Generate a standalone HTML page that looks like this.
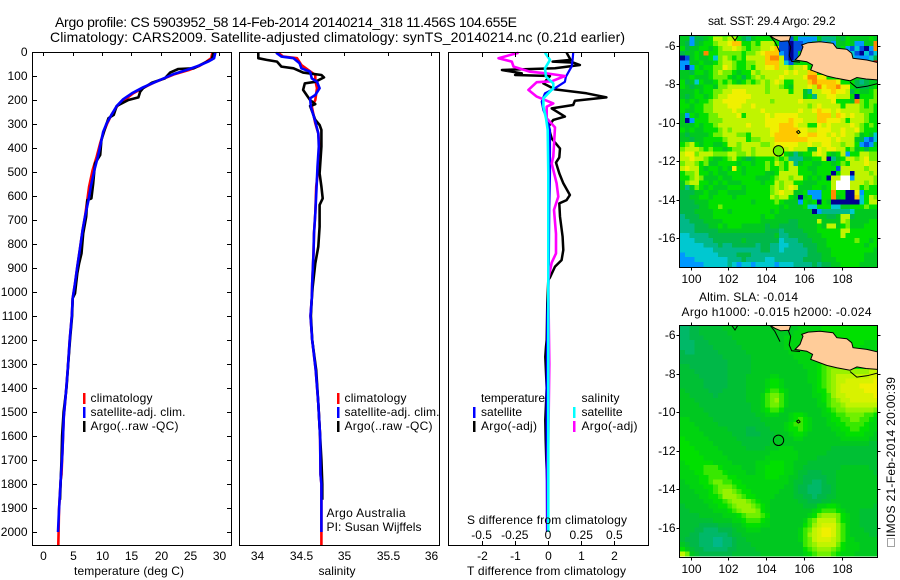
<!DOCTYPE html>
<html lang="en">
<head>
<meta charset="utf-8">
<title>Argo profile 5903952_58</title>
<style>
html,body{margin:0;padding:0;background:#fff;}
svg{display:block;}
text{font-family:"Liberation Sans",sans-serif;font-size:12px;fill:#000;}
.t14{font-size:14px;}
</style>
</head>
<body>
<svg id="fig" xmlns="http://www.w3.org/2000/svg" width="900" height="580" viewBox="0 0 900 580">
<defs>
<clipPath id="clipMap1"><rect x="679.5" y="35.5" width="198" height="232"/></clipPath>
<clipPath id="clipMap2"><rect x="679.5" y="325.5" width="198" height="232"/></clipPath>
</defs>
<rect x="0" y="0" width="900" height="580" fill="#fff"/>
<g id="marks"></g>

<text class="t14" x="55" y="27" textLength="462">Argo profile: CS 5903952_58 14-Feb-2014 20140214_318 11.456S 104.655E</text>
<text class="t14" x="50" y="42" textLength="575">Climatology: CARS2009. Satellite-adjusted climatology: synTS_20140214.nc (0.21d earlier)</text>

<text x="74" y="575" textLength="110">temperature (deg C)</text>
<text x="318.5" y="575" textLength="37">salinity</text>
<text x="467" y="575" textLength="159">T difference from climatology</text>
<text x="467" y="524" textLength="160">S difference from climatology</text>

<g>
<rect x="83" y="393" width="2.5" height="11" fill="#f00"/>
<rect x="83" y="407" width="2.5" height="11" fill="#00f"/>
<rect x="83" y="421" width="2.5" height="11" fill="#000"/>
<text x="90.5" y="402" textLength="62">climatology</text>
<text x="90.5" y="416" textLength="95">satellite-adj. clim.</text>
<text x="90.5" y="430" textLength="88">Argo(..raw -QC)</text>
</g>
<g>
<rect x="337" y="393" width="2.5" height="11" fill="#f00"/>
<rect x="337" y="407" width="2.5" height="11" fill="#00f"/>
<rect x="337" y="421" width="2.5" height="11" fill="#000"/>
<text x="344.5" y="402" textLength="62">climatology</text>
<text x="344.5" y="416" textLength="95">satellite-adj. clim.</text>
<text x="344.5" y="430" textLength="88">Argo(..raw -QC)</text>
</g>
<text x="326.5" y="517" textLength="79">Argo Australia</text>
<text x="326.5" y="531" textLength="95">PI: Susan Wijffels</text>

<g>
<text x="481" y="402" textLength="64">temperature</text>
<text x="581.5" y="402" textLength="38">salinity</text>
<rect x="473" y="407" width="2.5" height="11" fill="#00f"/>
<rect x="473" y="421" width="2.5" height="11" fill="#000"/>
<rect x="573" y="407" width="2.5" height="11" fill="#0ff"/>
<rect x="573" y="421" width="2.5" height="11" fill="#f0f"/>
<text x="481" y="416" textLength="41">satellite</text>
<text x="481" y="430" textLength="56">Argo(-adj)</text>
<text x="581.5" y="416" textLength="41">satellite</text>
<text x="581.5" y="430" textLength="56">Argo(-adj)</text>
</g>

<text x="708" y="25" textLength="127.5">sat. SST: 29.4 Argo: 29.2</text>
<text x="699" y="301" textLength="99">Altim. SLA: -0.014</text>
<text x="681.5" y="316" textLength="190">Argo h1000: -0.015 h2000: -0.024</text>

<rect x="887.5" y="538.5" width="7" height="8" fill="none" stroke="#444" stroke-width="1" stroke-dasharray="1 1"/>
<text transform="translate(895,537) rotate(-90)" x="0" y="0" textLength="160">IMOS 21-Feb-2014 20:00:39</text>
</svg>

<script>
// ---------- profile data ----------
const tempClimDepth=[3,26,40,58,75,92,110,128,147,172,197,225,262,297,332,380,436,492,561,617,686,742,818,894,964,1026,1100,1200,1325,1436,1519,1671,1760,1783,1908,2000,2054];
const tempClimValue=[28.8,28.6,27.8,26.6,24.8,22.4,20.6,18.8,17.2,15.3,14.0,12.6,11.6,10.9,10.3,9.7,9.1,8.4,7.8,7.5,7.1,6.7,6.25,5.8,5.4,5.0,4.85,4.5,4.15,3.8,3.5,3.25,3.1,2.96,2.67,2.6,2.55];
const tempArgoDepth=[3,31,47,68,71,86,110,128,151,165,189,200,225,262,276,304,367,429,464,547,610,617,686,756,839,881,922,1006,1026,1100,1200,1300,1400,1500,1600,1700,1866];
const tempArgoValue=[29.0,28.7,27.3,25.6,23.0,21.6,20.7,18.5,17.0,16.5,16.2,14.5,12.5,12.0,11.1,10.7,9.9,9.7,8.8,8.5,8.2,7.5,7.3,6.8,6.5,6.1,5.8,5.4,5.0,4.9,4.55,4.25,3.95,3.45,3.2,3.1,2.85];
const tempSatDepth=[3,26,40,58,75,92,110,128,147,172,197,225,262,297,332,380,436,492,561,617,686,742,818,894,964,1026,1100,1200,1325,1436,1519,1671,1783,1908,2000];
const tempSatValue=[29.3,29.1,28.1,26.4,24.4,22.2,20.5,18.8,17.0,15.1,13.6,12.5,11.6,10.8,10.2,9.8,9.3,8.7,8.1,7.7,7.1,6.7,6.25,5.8,5.4,5.0,4.85,4.5,4.15,3.8,3.5,3.25,2.96,2.67,2.5];

const salClimDepth=[3,19,26,54,75,96,117,151,200,228,297,339,429,485,561,672,756,839,964,1026,1100,1200,1325,1464,1600,1760,1800,2000,2054];
const salClimValue=[34.245,34.30,34.46,34.51,34.59,34.67,34.67,34.69,34.67,34.63,34.67,34.705,34.725,34.705,34.68,34.67,34.655,34.65,34.635,34.63,34.615,34.635,34.675,34.705,34.725,34.73,34.74,34.74,34.74];
const salArgoDepth=[3,26,33,40,61,68,86,96,106,124,131,158,179,200,217,225,283,304,325,394,450,506,561,610,637,728,811,881,978,1026,1100,1200,1325,1464,1600,1700,1800,1866];
const salArgoValue=[34.015,34.015,34.11,34.23,34.28,34.42,34.53,34.74,34.77,34.67,34.55,34.53,34.57,34.61,34.67,34.61,34.67,34.72,34.74,34.74,34.73,34.72,34.74,34.755,34.72,34.72,34.705,34.67,34.64,34.63,34.62,34.635,34.68,34.705,34.725,34.74,34.75,34.75];
const salSatDepth=[3,19,26,47,68,82,110,124,151,179,193,228,290,339,394,478,561,672,756,839,964,1026,1100,1200,1325,1464,1600,1760,1800,2000];
const salSatValue=[34.22,34.28,34.42,34.49,34.51,34.61,34.63,34.69,34.72,34.67,34.61,34.62,34.67,34.705,34.71,34.695,34.685,34.67,34.655,34.65,34.635,34.63,34.615,34.635,34.675,34.705,34.725,34.73,34.74,34.74];

const diffTArgoDepth=[3,33,40,44,54,68,75,89,96,100,131,156,172,189,203,221,235,269,283,311,360,402,439,461,506,547,596,617,631,686,769,825,867,894,939,950,1047,1200,1228,1270,1400,1533,1617,1700,1853];
const diffTArgoValue=[0.56,0.68,0.14,0.76,0.96,0.21,-1.39,-0.79,-0.99,0.06,-0.14,0.21,1.16,1.76,0.81,0.76,0.11,0.51,0.16,0.01,0.11,0.36,0.34,0.24,0.34,0.46,0.66,0.56,0.34,0.36,0.44,0.46,0.41,0.21,0.06,0.01,-0.02,-0.04,-0.06,-0.08,-0.04,-0.08,-0.07,-0.05,0];
const diffTSatDepth=[3,33,61,103,124,151,172,207,242,276,325,506,644,950,1100,1400,1700,2000];
const diffTSatValue=[0.76,0.74,0.71,0.54,0.51,0.21,-0.09,-0.19,-0.14,-0.04,0.06,0.06,0.04,0.02,-0.02,-0.04,-0.04,-0.03];
const diffSArgoDepth=[3,26,40,61,82,89,100,122,126,158,186,214,228,276,314,436,464,547,603,658,758,839,878,945,1100,1300,1500,1700,2000];
const diffSArgoValue=[-0.2225,-0.3725,-0.2725,-0.26,-0.135,-0.01,0.1275,0.0275,-0.085,-0.1475,-0.085,0.04,-0.01,-0.01,0.0525,0.04,0.0275,0.065,0.0775,0.045,0.06,0.06,0.0275,0.0025,0.005,0.01,0.005,0,0];
const diffSSatDepth=[3,33,68,103,131,151,193,228,276,325,506,950,1500,2000];
const diffSSatValue=[-0.0225,0.015,-0.0225,-0.015,0.04,0.04,-0.035,-0.035,-0.015,-0.0025,0.0025,0.0025,0.0025,0.0025];

// ---------- tick labels ----------
const depthTicks=[0,100,200,300,400,500,600,700,800,900,1000,1100,1200,1300,1400,1500,1600,1700,1800,1900,2000];
const tempTicks=[0,5,10,15,20,25,30];
const salTicks=[34,34.5,35,35.5,36];
const diffTTicks=[-2,-1,0,1,2];
const diffSTicks=[-0.5,-0.25,0,0.25,0.5];
const lonTicks=[100,102,104,106,108];
const latTicks=[-6,-8,-10,-12,-14,-16];

// ---------- map data ----------
const argoLon=104.655;
const argoLat=-11.456;
const javaLon=[105.88,106.22,106.85,107.54,107.74,108.27,108.53,108.6,109.33,109.95,109.95,109.29,108.81,108.44,107.74,107.21,106.48,106.36,106.46,106.15,105.53,105.79,105.95];
const javaLat=[-5.95,-5.83,-5.78,-5.86,-6.12,-6.17,-6.38,-6.64,-6.73,-6.87,-7.77,-7.72,-7.64,-7.81,-7.68,-7.56,-7.29,-7.25,-6.99,-6.82,-6.73,-6.47,-6.04];
const sumatraLon=[104.2,105.3,105.22,104.77,104.47];
const sumatraLat=[-5.47,-5.47,-5.73,-5.76,-5.63];
const coastALon=[104.2,104.47,104.73];
const coastALat=[-5.47,-5.8,-6.32];
const coastBLon=[105.17,105.3,105.22,105.35,105.79];
const coastBLat=[-5.75,-6.06,-6.5,-6.8,-6.84];
const coastCLon=[108.44,108.8,109.33,109.9];
const coastCLat=[-7.88,-8.17,-8.10,-7.96];
const coastDLon=[102.17,102.35,102.5];
const coastDLat=[-5.47,-5.72,-5.47];
const islandLon=[105.6,105.72,105.8,105.7,105.6];
const islandLat=[-10.47,-10.4,-10.5,-10.56,-10.47];

// SST colour levels per 0.25 degree cell (-1 = no data)
const sstRows=[
[6,6,2,5,5,6,7,9,9,8,9,9,7,5,4,6,7,7,7,7,6,1,1,1,6,2,2,2,2,6,4,4,4,6,5,7,6,6,6,6,7,6],
[6,5,2,5,6,7,7,8,9,9,10,11,11,7,7,8,7,9,9,9,7,1,1,0,1,1,2,2,4,4,2,4,2,6,6,7,6,2,2,6,6,12],
[7,5,6,6,7,7,6,7,8,9,9,10,9,8,7,8,8,9,9,10,11,1,1,0,1,1,2,6,6,6,6,5,6,5,7,2,1,3,1,0,2,12],
[5,6,6,7,6,12,7,7,8,8,8,8,8,7,8,8,9,10,11,11,11,2,1,0,1,6,6,6,6,6,6,6,6,6,6,1,3,1,0,3,1,3],
[0,1,6,7,6,6,7,3,8,9,8,7,8,7,9,9,9,9,11,12,12,9,1,0,1,7,7,7,7,7,7,7,7,7,6,6,3,2,2,2,3,5],
[2,2,6,6,7,6,6,7,8,9,9,8,7,7,8,8,9,9,11,11,11,9,3,1,6,7,7,7,7,7,7,7,7,7,7,7,7,3,5,3,4,13],
[2,0,2,7,6,7,7,8,8,10,9,8,7,7,8,7,9,9,10,10,11,9,9,8,9,9,10,7,7,7,7,7,7,7,7,7,7,7,7,7,7,7],
[6,6,5,7,7,6,7,8,9,8,8,7,6,7,7,9,8,9,9,9,9,9,10,9,10,9,9,11,11,7,7,7,7,7,7,7,7,7,7,7,7,7],
[6,6,7,6,6,6,7,8,8,8,7,6,7,5,7,8,9,8,9,9,9,10,9,9,9,9,10,12,12,10,10,7,7,7,7,7,7,7,7,7,7,7],
[7,5,6,3,7,6,6,7,8,7,8,7,6,7,8,7,8,9,8,9,10,9,7,7,9,9,9,11,12,11,11,11,11,10,7,7,7,5,4,5,6,6],
[7,6,5,6,6,7,7,6,8,8,9,9,9,9,9,9,9,9,8,9,9,8,7,6,9,9,9,10,9,12,10,11,11,12,10,10,7,5,5,5,6,7],
[6,6,6,7,6,7,7,8,8,9,9,10,10,10,9,9,9,9,8,9,9,9,9,7,9,9,6,4,9,9,10,10,11,10,10,9,5,7,6,6,7,8],
[6,5,6,7,7,6,7,8,9,9,10,10,10,10,10,9,9,9,9,9,9,9,9,9,9,9,6,7,4,9,9,10,10,9,9,9,7,0,7,7,7,8],
[7,6,7,6,7,7,8,9,9,10,10,10,10,10,9,9,9,9,9,8,9,9,9,9,9,10,9,9,9,9,9,9,10,7,7,7,6,12,8,7,8,8],
[7,7,6,7,7,8,8,9,9,9,10,10,10,9,9,10,9,9,9,9,9,9,9,9,9,9,9,8,9,10,9,9,9,9,7,9,9,9,8,7,8,7],
[7,6,6,7,7,8,8,9,9,9,9,10,9,9,9,9,9,10,9,9,9,9,9,9,9,10,9,9,10,11,10,10,9,10,9,9,9,9,8,8,8,7],
[6,2,7,6,7,7,8,8,9,9,9,9,10,7,9,9,9,9,10,9,10,10,10,10,10,9,9,9,9,11,11,11,9,11,10,9,10,9,9,8,7,7],
[6,0,2,7,7,7,8,8,8,9,9,9,9,9,9,9,9,9,10,10,10,10,10,11,10,10,9,9,9,11,11,10,10,10,9,7,9,9,9,8,7,7],
[6,6,6,7,6,7,7,8,9,9,9,9,9,9,10,9,9,9,10,10,10,11,11,11,10,9,9,7,7,10,9,10,9,9,9,9,10,9,8,7,8,7],
[7,6,7,6,6,7,7,7,8,9,8,9,9,9,9,9,9,9,9,10,10,11,11,11,11,10,10,9,9,10,10,10,9,9,10,9,9,10,8,7,7,7],
[6,5,6,6,6,6,7,8,8,9,9,9,8,8,7,9,9,9,9,10,11,11,11,11,11,10,10,11,11,10,10,9,10,9,10,9,9,8,6,7,6,3],
[6,6,5,6,6,7,7,7,7,8,9,9,9,9,7,8,8,9,9,9,11,11,11,11,11,11,11,10,10,10,10,10,9,10,9,9,9,6,5,2,1,3],
[7,8,9,7,6,7,7,6,6,7,9,9,8,9,9,9,9,8,8,9,10,10,10,10,10,9,9,10,9,9,10,10,9,9,8,9,9,7,2,1,2,6],
[8,9,9,9,8,7,8,7,7,6,7,8,8,9,9,8,9,9,9,9,10,10,9,10,9,9,9,6,6,10,9,10,10,9,9,7,8,6,7,5,7,7],
[9,10,10,8,9,9,9,8,8,8,9,9,8,8,9,8,9,9,9,9,10,9,7,6,4,6,7,7,9,10,9,7,6,7,9,2,7,7,9,9,8,8],
[9,9,10,9,9,8,7,6,6,7,8,9,7,6,5,6,7,7,7,7,8,7,8,4,4,4,6,6,7,7,9,0,4,6,7,9,9,8,9,10,8,8],
[8,9,9,8,7,8,6,6,7,7,7,7,6,7,7,6,7,7,8,7,9,8,7,9,4,6,7,7,6,6,7,7,6,7,8,7,9,9,9,10,9,9],
[9,10,9,9,7,6,7,7,6,7,6,10,7,6,7,7,7,7,8,7,7,8,7,9,9,7,7,6,6,7,7,7,7,1,9,9,9,9,9,8,9,9],
[7,8,8,9,7,7,6,7,6,6,7,7,7,6,7,7,7,7,6,6,7,9,9,9,9,7,7,7,6,7,7,7,0,7,9,9,0,9,9,9,8,9],
[7,7,8,9,8,6,6,6,7,6,6,7,7,7,7,7,6,6,6,7,8,9,9,8,9,9,7,6,7,6,7,0,9,9,-1,-1,2,9,9,9,9,8],
[6,8,9,9,7,7,6,7,6,7,6,6,6,7,7,7,7,6,7,7,9,8,9,9,7,7,6,6,6,7,7,7,9,-1,-1,-1,9,9,9,8,9,8],
[6,4,6,8,7,6,7,6,6,6,7,7,7,6,7,7,7,7,7,8,9,8,9,10,9,6,6,6,7,7,6,7,9,-1,-1,-1,9,9,7,8,7,7],
[5,5,5,6,6,7,6,6,7,7,6,6,6,6,7,7,7,7,7,8,9,10,9,9,6,6,7,2,2,2,7,7,12,7,7,0,0,10,2,7,7,7],
[5,5,6,6,7,7,6,7,7,7,7,6,7,7,7,7,7,7,7,9,8,9,9,7,6,0,6,7,2,2,7,7,12,6,7,0,0,11,3,7,9,8],
[5,5,5,6,6,6,7,7,7,7,7,7,7,7,7,6,7,7,7,7,8,7,6,6,6,2,7,6,7,0,7,6,0,0,0,0,0,0,3,7,9,9],
[5,5,5,5,6,6,7,7,8,7,7,7,7,7,7,7,7,7,7,7,7,6,7,6,6,6,7,3,3,7,7,7,3,3,6,6,7,7,7,8,7,7],
[5,5,5,6,6,6,6,7,7,7,6,7,7,7,7,7,7,7,7,6,7,6,6,6,6,6,6,6,0,2,4,4,4,4,4,4,3,6,6,6,6,6],
[4,5,5,5,6,6,6,7,7,7,7,7,7,7,7,7,7,6,7,7,6,6,6,6,6,6,6,6,6,6,6,5,5,6,9,9,5,6,6,6,6,6],
[4,4,5,5,5,6,6,6,6,7,7,7,7,7,7,7,7,6,6,6,6,6,6,5,5,6,6,6,6,9,6,6,6,6,9,8,6,6,6,6,7,7],
[4,4,4,5,5,5,6,6,7,6,7,7,7,6,6,6,6,6,5,6,6,5,5,5,5,6,6,6,6,7,6,9,9,6,7,8,6,6,6,7,7,7],
[4,4,4,5,5,5,5,5,6,6,6,6,6,6,6,6,6,6,5,5,5,4,5,5,5,5,6,6,6,7,7,7,7,7,9,9,7,7,7,7,7,7],
[3,3,4,4,4,4,5,5,5,5,5,5,5,5,5,5,5,5,5,5,6,4,4,5,5,5,5,6,6,6,7,7,7,7,9,7,7,7,7,7,7,7],
[3,3,3,4,4,4,4,5,5,5,5,5,5,6,5,5,5,5,5,5,5,3,4,4,4,5,5,5,6,6,6,7,7,7,7,7,7,8,7,7,6,7],
[3,3,3,3,3,4,4,4,5,4,4,5,5,5,5,5,4,5,5,4,4,3,3,4,4,4,5,5,5,6,6,7,7,7,7,7,7,7,7,6,7,7],
[3,3,3,3,3,3,3,4,4,4,4,4,4,4,4,4,4,5,5,4,4,3,4,4,4,4,4,5,5,6,6,6,7,7,7,7,7,7,7,7,7,6],
[2,3,3,3,3,3,3,3,4,4,4,4,5,5,5,4,4,4,4,4,4,4,4,4,4,4,4,5,5,5,6,6,7,7,7,7,7,7,7,6,6,6],
[2,2,2,3,3,3,3,3,3,3,4,4,4,5,4,4,4,4,3,3,4,4,4,4,4,4,5,5,5,5,6,6,6,7,7,7,7,7,7,6,6,6],
[2,2,2,2,2,3,3,3,3,3,4,3,2,3,3,2,3,3,3,3,2,3,3,3,4,4,4,4,5,4,5,5,6,6,7,7,7,7,6,6,6,6]
];

// Sea-level anomaly colour values per 0.25 degree cell (two units per colour level)
const slaRows=[
[9,9,10,10,11,11,11,11,11,12,12,12,12,12,12,12,12,12,12,12,12,12,12,12,12,13,13,13,13,13,14,14,14,14,14,14,14,14,14,14,14,14],
[9,9,10,10,11,11,11,11,11,11,12,12,12,12,12,12,12,12,12,12,12,12,12,12,13,13,13,13,13,13,14,14,14,14,14,14,14,14,14,14,14,14],
[9,9,10,10,10,11,11,11,11,11,11,12,12,12,12,12,12,12,12,12,12,12,13,13,13,13,13,13,13,14,14,14,14,14,14,14,14,14,14,14,14,14],
[9,9,9,10,10,10,11,11,11,11,11,11,12,12,12,12,12,12,12,12,12,12,13,13,13,13,13,13,14,14,14,14,14,14,14,14,14,14,14,13,13,13],
[9,9,9,10,10,10,10,11,11,11,11,11,11,12,12,12,12,12,12,12,12,12,13,13,13,13,13,14,14,14,14,14,14,14,14,14,14,14,13,13,13,13],
[10,9,9,10,10,10,10,10,11,11,11,11,11,11,12,12,12,12,12,12,12,12,12,13,13,13,13,14,14,14,14,14,14,14,14,14,14,13,13,13,13,13],
[10,10,10,10,10,10,10,10,10,11,11,11,11,11,11,12,12,12,12,12,12,12,12,12,13,13,13,13,14,14,14,14,14,14,14,14,14,14,14,14,14,14],
[10,10,10,10,10,10,10,10,10,10,11,11,11,11,11,12,12,12,12,12,12,12,12,12,12,13,13,13,13,13,14,14,14,14,14,14,14,14,14,14,14,14],
[11,11,10,10,10,10,10,10,10,10,11,11,11,11,11,12,12,12,12,12,12,12,12,12,12,12,13,13,13,14,15,16,16,16,15,14,14,14,14,14,14,14],
[11,11,11,10,10,10,10,10,10,10,11,11,11,11,11,12,12,12,12,12,12,12,12,12,12,12,12,13,13,14,15,16,17,17,17,17,17,17,17,17,18,18],
[11,11,11,11,10,10,10,10,10,10,11,11,11,11,12,12,12,12,12,13,13,12,12,12,12,12,12,13,13,14,15,16,17,18,18,18,18,18,18,18,19,19],
[11,11,11,11,11,10,10,10,10,10,11,11,11,11,12,12,12,12,13,14,14,13,12,12,12,12,12,13,13,14,15,16,17,18,18,19,19,19,19,19,19,20],
[11,11,11,11,11,10,10,10,10,10,11,11,11,11,12,12,12,12,13,14,14,13,12,12,12,12,12,12,13,14,15,16,17,18,19,19,19,19,20,20,20,20],
[12,11,11,11,11,11,10,10,10,11,11,11,11,11,12,12,12,12,14,15,15,14,13,12,12,12,12,12,13,14,14,16,17,18,19,19,19,19,19,20,20,20],
[12,12,11,11,11,11,11,10,11,11,11,11,11,11,12,12,12,13,15,16,16,15,13,12,12,12,12,12,13,13,14,15,17,18,18,19,19,19,19,19,19,20],
[12,12,12,11,11,11,11,11,11,11,11,11,11,11,12,12,12,13,15,16,17,15,13,12,12,12,12,12,12,13,14,15,16,17,18,18,19,19,19,19,19,19],
[12,12,12,12,11,11,11,11,11,11,11,11,11,11,11,12,12,13,15,16,16,15,13,12,12,12,12,12,12,13,13,15,16,16,17,18,18,18,18,18,18,18],
[12,12,12,12,12,11,11,11,11,11,11,11,11,11,11,12,12,13,14,15,15,14,12,12,12,12,12,12,12,12,13,14,15,16,16,17,17,17,17,17,17,16],
[12,12,12,12,12,12,11,11,11,11,11,11,11,11,11,11,12,12,13,13,13,12,12,13,14,14,13,12,12,12,13,13,14,15,15,16,16,16,16,15,15,14],
[13,13,12,12,12,12,12,11,11,11,11,11,11,11,11,11,11,12,12,12,12,12,12,13,14,15,14,13,12,12,12,13,14,14,15,15,16,16,15,15,14,13],
[13,13,13,12,12,12,12,12,11,11,11,11,11,11,11,11,11,11,12,12,12,12,13,14,15,15,14,13,12,12,12,13,13,14,14,15,15,15,15,14,13,13],
[13,13,13,13,12,12,12,12,12,12,11,11,11,11,10,10,11,11,11,12,12,12,13,14,14,15,14,13,12,12,12,12,13,13,14,14,15,15,14,14,13,13],
[13,13,13,13,13,12,12,12,12,12,12,11,11,11,10,10,10,11,11,11,12,12,12,13,14,14,13,12,12,12,12,12,12,13,13,14,14,14,14,13,13,12],
[14,13,13,13,13,13,12,12,12,12,12,12,11,11,11,11,11,11,11,11,12,12,12,12,13,13,12,12,12,12,12,12,12,12,13,13,13,13,13,13,12,12],
[14,14,13,13,13,13,13,12,12,12,12,12,12,11,11,11,11,11,11,12,12,12,12,12,12,12,12,12,12,12,12,12,12,12,12,12,12,12,12,12,11,11],
[14,14,14,13,13,13,13,13,12,12,12,12,12,12,11,11,11,11,12,12,12,13,13,13,12,12,12,12,12,12,12,12,11,11,11,11,11,11,11,11,11,11],
[14,14,14,14,13,13,13,13,13,12,12,12,12,12,12,12,12,12,12,13,13,13,13,13,13,12,12,12,12,12,12,11,11,11,11,11,11,11,11,11,11,11],
[14,14,14,14,14,13,13,13,13,13,12,12,12,12,12,12,12,12,13,13,13,13,13,13,13,12,12,12,12,11,11,11,11,11,11,11,11,11,11,11,11,11],
[13,14,14,14,14,14,14,13,13,13,13,12,12,12,12,12,13,13,13,14,14,14,13,13,12,12,12,11,11,11,11,11,11,11,11,11,11,11,11,11,11,11],
[13,13,14,14,14,15,15,15,14,13,13,13,13,12,12,12,13,13,14,14,14,14,13,13,12,12,11,11,11,11,11,11,11,11,12,12,12,12,12,12,11,11],
[13,13,13,14,14,15,15,15,15,14,13,13,13,13,12,12,13,13,14,14,14,14,13,13,12,11,11,10,10,10,11,11,11,12,12,12,12,12,12,12,12,11],
[13,13,13,13,14,14,15,15,15,15,14,14,13,13,13,13,13,13,14,14,14,13,13,12,12,11,10,10,10,10,10,11,11,12,12,12,12,12,12,12,12,12],
[12,13,13,13,14,14,15,16,16,15,15,14,14,13,13,13,13,13,13,13,13,13,13,12,11,11,10,10,9,9,10,11,11,12,12,12,12,12,12,12,12,12],
[12,12,13,13,13,14,14,15,16,16,16,15,14,14,13,13,13,13,13,13,13,13,12,12,11,10,10,9,9,9,10,10,11,12,12,12,12,12,12,12,12,12],
[12,12,12,13,13,13,14,15,16,17,17,16,15,14,14,13,13,13,13,13,13,12,12,12,11,10,10,9,9,9,10,10,11,12,12,12,12,12,12,12,12,12],
[12,12,12,12,13,13,14,14,15,17,17,17,16,15,14,14,13,13,13,13,12,12,12,12,11,11,10,10,9,10,10,11,11,12,12,12,12,12,12,12,12,12],
[12,12,12,12,12,13,13,14,14,15,16,17,17,17,16,15,14,13,13,12,12,12,12,12,12,11,11,10,10,10,11,11,12,12,12,12,12,12,12,12,12,12],
[11,12,12,12,12,12,13,13,14,14,15,16,17,17,17,16,15,14,13,12,12,12,12,12,12,12,11,11,11,13,13,14,14,13,12,12,12,12,12,12,12,11],
[11,11,12,12,12,12,12,13,13,13,14,15,16,17,17,17,16,14,13,12,12,12,12,12,12,12,12,12,13,14,15,15,15,14,13,12,12,12,11,11,11,11],
[11,11,11,11,12,12,12,12,12,13,13,13,14,15,16,16,16,15,14,12,12,12,12,12,12,12,12,13,14,16,17,17,17,16,14,13,12,12,11,11,11,11],
[11,11,11,11,11,11,11,12,12,12,12,13,13,14,15,15,15,14,13,12,12,12,12,12,12,12,13,15,16,18,18,18,18,16,14,13,12,12,11,11,11,11],
[11,11,11,11,10,10,10,10,11,11,11,12,12,13,14,14,14,13,13,12,12,12,12,12,12,12,14,15,17,18,19,19,19,17,15,13,12,12,11,11,11,11],
[11,11,11,10,10,9,9,9,10,10,10,11,12,12,13,13,13,12,12,12,12,12,12,12,12,13,15,16,18,19,20,20,19,17,15,13,12,12,12,11,11,11],
[11,11,10,10,9,9,9,9,9,9,10,11,11,12,12,12,12,12,12,12,12,12,12,12,12,13,15,17,18,19,20,20,19,17,15,13,12,12,12,12,11,11],
[11,10,10,10,9,9,9,8,8,9,9,10,11,11,12,12,12,12,12,12,12,12,12,12,12,13,15,16,18,19,19,19,18,17,15,13,13,12,12,12,12,12],
[12,11,10,10,9,9,9,8,8,9,9,10,11,11,11,12,12,12,12,12,12,12,12,12,12,12,15,16,17,18,18,18,18,16,14,13,13,13,12,12,12,12],
[14,12,11,10,10,9,9,9,9,9,10,10,11,11,11,11,12,12,12,12,12,12,12,12,12,12,14,15,16,17,17,17,16,15,14,13,13,13,12,12,12,12],
[18,16,12,11,10,10,10,10,10,10,10,11,11,11,11,11,11,12,12,12,12,12,12,12,12,12,13,14,15,16,16,16,15,14,13,13,13,12,12,12,12,12]
];

// ---------- scales ----------
const yDepth=d=>52+0.24*d;
const xTemp=t=>43.3+5.87*t;
const xSal=s=>257+87*(s-34);
const xDiffT=t=>548+33.2*t;
const xDiffS=s=>xDiffT(s*4);
const xLon=lon=>690.7+18.87*(lon-100);
const yLat1=lat=>46+19.2*(-6-lat);
const yLat2=lat=>335.4+19.22*(-6-lat);
const cellLon=c=>99.44+0.25*c;
const cellLat=r=>-5.5-0.25*r;
const palette=[[0,0,144],[0,80,224],[0,152,255],[0,200,208],[0,184,136],[0,184,72],[0,200,32],[0,224,0],[112,240,0],[192,244,0],[240,240,0],[255,200,0],[255,136,0],[208,0,0]];
function levelColor(v){
  const a=Math.max(0,Math.min(13,Math.floor(v)));
  const b=Math.min(13,a+1);
  const f=Math.max(0,Math.min(1,v-a));
  const c=palette[a].map((p,i)=>Math.round(p+(palette[b][i]-p)*f));
  return 'rgb('+c.join(',')+')';
}

const SVGNS='http://www.w3.org/2000/svg';
const root=document.getElementById('marks');
function mk(tag,parent){
  const el=document.createElementNS(SVGNS,tag);
  (parent||root).appendChild(el);
  return el;
}
function setAll(el,attrs){
  for(const k in attrs){el.setAttribute(k,attrs[k]);}
}

// ---------- drawing helpers ----------
function drawProfile(depths,values,xf,color,width,label){
  const el=mk('polyline');
  
  
  setAll(el,{points:depths.map((d,i)=>xf(values[i]).toFixed(1)+','+yDepth(d).toFixed(1)).join(' '),fill:'none',stroke:color,'stroke-width':width,'stroke-linejoin':'round'});
}
function drawFrame(x,y,w,h,label){
  const el=mk('rect');
  
  
  setAll(el,{x:x,y:y,width:w,height:h,fill:'none',stroke:'#000','stroke-width':1,'shape-rendering':'crispEdges'});
}
function drawTick(x1,y1,x2,y2){
  const el=mk('line');
  
  
  setAll(el,{x1:x1,y1:y1,x2:x2,y2:y2,stroke:'#000','stroke-width':1,'shape-rendering':'crispEdges'});
}
function drawLabel(x,y,anchor,value){
  const el=mk('text');
  
  
  setAll(el,{x:x,y:y,'text-anchor':anchor});
  el.textContent=String(value);
}

// ---------- maps ----------
function drawCells(rows,yf,clipId,colorOf,label){
  const g=mk('g');
  
  
  g.setAttribute('clip-path','url(#'+clipId+')');
  g.setAttribute('shape-rendering','crispEdges');
  const under=mk('rect',g);
  
  
  setAll(under,{x:679,y:yf(-5.4),width:200,height:6,fill:colorOf(rows[0][5])});
  rows.forEach((row,r)=>{
    row.forEach((v,c)=>{
      const cell=mk('rect',g);
      
      
      const x0=xLon(cellLon(c));
      const y0=yf(cellLat(r));
      setAll(cell,{x:x0.toFixed(2),y:y0.toFixed(2),width:(xLon(cellLon(c+1))-x0).toFixed(2),height:(yf(cellLat(r+1))-y0).toFixed(2),fill:v<0?'#fff':colorOf(v)});
    });
  });
  return g;
}
function pts(lons,lats,yf){
  return lons.map((lo,i)=>xLon(lo).toFixed(1)+','+yf(lats[i]).toFixed(1)).join(' ');
}
function drawLand(parent,yf){
  const j=mk('polygon',parent);
  
  
  setAll(j,{points:pts(javaLon,javaLat,yf),fill:'#ffcc99',stroke:'#000','stroke-width':1,'shape-rendering':'auto'});
  const s=mk('polygon',parent);
  
  
  setAll(s,{points:pts(sumatraLon,sumatraLat,yf),fill:'#ffcc99',stroke:'#000','stroke-width':1,'shape-rendering':'auto'});
  [[coastALon,coastALat],[coastBLon,coastBLat],[coastCLon,coastCLat],[coastDLon,coastDLat],[islandLon,islandLat]].forEach(pair=>{
    const l=mk('polyline',parent);
    
    
    setAll(l,{points:pts(pair[0],pair[1],yf),fill:'none',stroke:'#000','stroke-width':1,'shape-rendering':'auto'});
  });
}
function drawArgoCircle(parent,yf,fill){
  const c=mk('circle',parent);
  
  
  setAll(c,{cx:xLon(argoLon).toFixed(1),cy:yf(argoLat).toFixed(1),r:5.2,fill:fill,stroke:'#000','stroke-width':1,'shape-rendering':'auto'});
}

const map1=drawCells(sstRows,yLat1,'clipMap1',levelColor,'sst-map');
drawLand(map1,yLat1);
drawArgoCircle(map1,yLat1,levelColor(8));
const map2=drawCells(slaRows,yLat2,'clipMap2',v=>levelColor(v/2),'sla-map');
drawLand(map2,yLat2);
drawArgoCircle(map2,yLat2,'none');

// ---------- profile lines ----------
drawProfile(tempClimDepth,tempClimValue,xTemp,'#f00',2.6,'temperature-climatology-line');
drawProfile(tempArgoDepth,tempArgoValue,xTemp,'#000',2.6,'temperature-argo-line');
drawProfile(tempSatDepth,tempSatValue,xTemp,'#00f',2.6,'temperature-satellite-line');
drawProfile(salClimDepth,salClimValue,xSal,'#f00',2.6,'salinity-climatology-line');
drawProfile(salArgoDepth,salArgoValue,xSal,'#000',2.6,'salinity-argo-line');
drawProfile(salSatDepth,salSatValue,xSal,'#00f',2.6,'salinity-satellite-line');
drawProfile(diffTArgoDepth,diffTArgoValue,xDiffT,'#000',2.5,'t-difference-argo-line');
drawProfile(diffTSatDepth,diffTSatValue,xDiffT,'#00f',2.2,'t-difference-satellite-line');
drawProfile(diffSArgoDepth,diffSArgoValue,xDiffS,'#f0f',2.6,'s-difference-argo-line');
drawProfile(diffSSatDepth,diffSSatValue,xDiffS,'#0ff',2.6,'s-difference-satellite-line');

// ---------- frames ----------
drawFrame(32.5,52.5,199,493,'temperature-panel-frame');
drawFrame(239.5,52.5,200,493,'salinity-panel-frame');
drawFrame(448.5,52.5,200,493,'difference-panel-frame');
drawFrame(679.5,35.5,198,232,'sst-map-frame');
drawFrame(679.5,325.5,198,232,'sla-map-frame');

// ---------- axes ----------
depthTicks.forEach(d=>{
  const y=Math.round(yDepth(d))+0.5;
  drawTick(33,y,37,y);
  drawTick(227,y,231,y);
  drawLabel(27.5,y+3.5,'end',d);
});
tempTicks.forEach(t=>{
  const x=Math.round(xTemp(t))+0.5;
  drawTick(x,53,x,56);
  drawLabel(x,560,'middle',t);
});
salTicks.forEach(s=>{
  const x=Math.round(xSal(s))+0.5;
  drawTick(x,53,x,56);
  drawLabel(x,560,'middle',s);
});
diffTTicks.forEach(t=>{
  const x=Math.round(xDiffT(t))+0.5;
  drawTick(x,53,x,57);
  drawTick(x,541,x,545);
  drawLabel(x,560,'middle',t);
});
diffSTicks.forEach(s=>{
  drawLabel(xDiffS(s),539,'middle',s);
});
[[yLat1,35.5,267.5,283],[yLat2,325.5,557.5,573]].forEach(cfg=>{
  const yf=cfg[0];
  lonTicks.forEach(lon=>{
    const x=Math.round(xLon(lon))+0.5;
    drawTick(x,cfg[1]-3,x,cfg[1]);
    drawTick(x,cfg[2],x,cfg[2]+3);
    drawLabel(x,cfg[3],'middle',lon);
  });
  latTicks.forEach(lat=>{
    const y=Math.round(yf(lat))+0.5;
    drawTick(676.5,y,679.5,y);
    drawTick(877.5,y,880.5,y);
    drawLabel(675.5,y+3.5,'end',lat);
  });
});
</script>
</body>
</html>
